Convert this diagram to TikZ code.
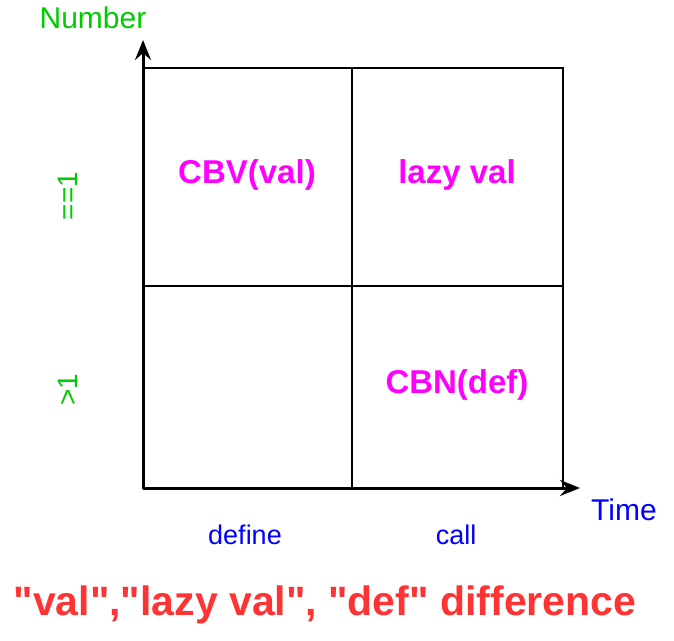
\documentclass[tikz,border=0pt]{standalone}
\usepackage{fontspec}
\setmainfont{Liberation Sans}
\usetikzlibrary{arrows.meta,positioning}
\definecolor{numgreen}{RGB}{0,204,0}
\definecolor{timeblue}{RGB}{0,0,255}
\definecolor{cellpink}{RGB}{255,0,255}
\definecolor{titlered}{RGB}{255,51,51}

\begin{document}
\begin{tikzpicture}[x=1pt,y=1pt,
    axis/.style={line width=3pt,-{Stealth[length=20pt,width=16pt,inset=7pt]}},
    cell/.style={font=\fontsize{33}{38}\selectfont\bfseries,text=cellpink},
    ylab/.style={font=\fontsize{28}{32}\selectfont,text=numgreen,rotate=90},
    xlab/.style={font=\fontsize{27}{31}\selectfont,text=timeblue}]

          \useasboundingbox (0,0) rectangle (674,640);

          \coordinate (O)  at (143,152);
          \coordinate (TR) at (563,572);
          \coordinate (Ytip) at (143,600);
          \coordinate (Xtip) at (580,152);

          % grid
          \draw[line width=2.4pt] (O) rectangle (TR);
          \draw[line width=2.4pt] (352,152) -- (352,572)
                                  (143,354) -- (563,354);

          % axes
          \draw[axis] (O) -- (Ytip);
          \draw[axis] (O) -- (Xtip);

          \node[font=\fontsize{30}{34}\selectfont,text=numgreen] (number) at (93,622) {Number};
          \node[font=\fontsize{30}{34}\selectfont,text=timeblue] (time)   at (624,130) {Time};

          \node[xlab] (define) at (245,105) {define};
          \node[xlab] (call)   at (456,105) {call};

          \node[ylab] (once) at (68,444) {==1};
          \node[ylab] (more) at (68,250) {>1};

          \node[cell] (cbv)  at (247,465) {CBV(val)};
          \node[cell] (lazy) at (457,465) {lazy val};
          \node[cell] (cbn)  at (457,255) {CBN(def)};

          \node[font=\fontsize{41}{46}\selectfont\bfseries,text=titlered] (title) at (325,35)
               {\textquotedbl val\textquotedbl,\textquotedbl lazy val\textquotedbl, \textquotedbl def\textquotedbl{} difference};
        \end{tikzpicture}
\end{document}
